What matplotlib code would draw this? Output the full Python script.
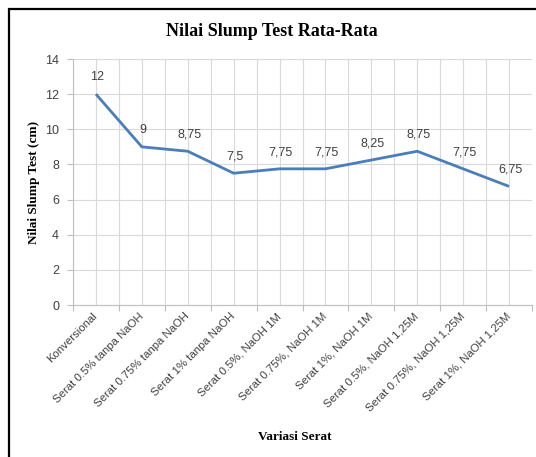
import matplotlib
matplotlib.use("Agg")
import matplotlib.pyplot as plt
from matplotlib.patches import Rectangle
import numpy as np

categories = ["Konversional", "Serat 0.5% tanpa NaOH", "Serat 0.75% tanpa NaOH",
              "Serat 1% tanpa NaOH", "Serat 0.5%, NaOH 1M", "Serat 0.75%, NaOH 1M",
              "Serat 1%, NaOH 1M", "Serat 0.5%, NaOH 1,25M", "Serat 0.75%, NaOH 1,25M",
              "Serat 1%, NaOH 1,25M"]
slump = [12, 9, 8.75, 7.5, 7.75, 7.75, 8.25, 8.75, 7.75, 6.75]
value_labels = ["12", "9", "8,75", "7,5", "7,75", "7,75", "8,25", "8,75", "7,75", "6,75"]

W, H = 536, 457
fig = plt.figure(figsize=(W / 100, H / 100), dpi=100)

# chart border (only left and top edges visible in the crop)
fig.patches.append(Rectangle((9 / W, -0.1), 1.2, (H - 9) / H + 0.1, transform=fig.transFigure,
                             fill=False, edgecolor="black", linewidth=1.6))

ax = fig.add_axes([73 / W, 1 - 305 / H, (532 - 73) / W, (305 - 59) / H])

x = np.arange(len(categories))
ax.plot(x, slump, color="#4a7ebb", linewidth=2.0, solid_capstyle="butt")
for xi, yi, lab in zip(x, slump, value_labels):
    ax.annotate(lab, (xi, yi), xytext=(1, 12), textcoords="offset points",
                ha="center", va="center", fontsize=9, color="#404040",
                family="Liberation Sans")

ax.set_xlim(-0.5, len(categories) - 0.5)
ax.set_ylim(0, 14)
ax.set_yticks(np.arange(0, 15, 2))

# grid at category boundaries and centres
for b in np.arange(-0.5, len(categories), 0.5):
    ax.axvline(b, color="#d9d9d9", linewidth=0.8, zorder=0)
ax.grid(axis="y", color="#d9d9d9", linewidth=0.8)
ax.set_axisbelow(True)

ax.set_xticks(np.arange(-0.5, len(categories), 1.0))
ax.set_xticklabels([])
ax.set_xticks(x, minor=True)
ax.set_xticklabels(categories, minor=True, rotation=45, ha="right", va="center",
                   rotation_mode="anchor", fontsize=8.2, color="#404040", family="Liberation Sans")
ax.tick_params(axis="x", which="major", length=4, color="#bfbfbf", direction="out")
ax.tick_params(axis="x", which="minor", length=0, pad=7)
ax.tick_params(axis="y", length=4, color="#bfbfbf", labelsize=9, labelcolor="#404040", pad=6)
for t in ax.get_yticklabels():
    t.set_family("Liberation Sans")

for s in ["top", "right"]:
    ax.spines[s].set_visible(False)
ax.spines["left"].set_color("#bfbfbf")
ax.spines["bottom"].set_color("#bfbfbf")

fig.text(272 / W, 1 - 32 / H, "Nilai Slump Test Rata-Rata", ha="center", va="center",
         fontsize=13, fontweight="bold", family="Liberation Serif")
fig.text(34 / W, 1 - 182 / H, "Nilai Slump Test (cm)", ha="center", va="center", rotation=90,
         fontsize=9.5, fontweight="bold", family="Liberation Serif")
fig.text(295 / W, 1 - 437 / H, "Variasi Serat", ha="center", va="center",
         fontsize=9.5, fontweight="bold", family="Liberation Serif")

fig.savefig("out.png", dpi=100)
